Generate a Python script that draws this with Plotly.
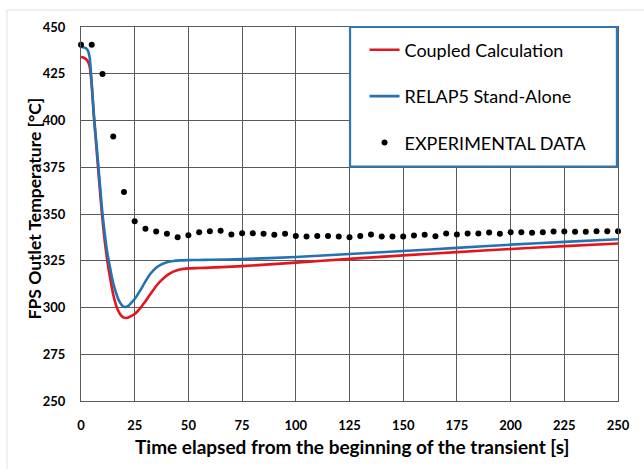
import plotly.graph_objects as go

# Simulation time axis [s] and outlet temperatures [°C]
t_coupled = [0, 1, 2, 3, 4, 5, 6, 7, 8, 9, 10, 11, 12, 13, 14, 15, 16, 17, 18, 19, 20,
             21, 22, 23, 25, 27.5, 30, 32.5, 35, 37.5, 40, 43, 46, 50, 55, 60, 75, 100,
             125, 150, 175, 200, 225, 250]
temp_coupled = [434.0, 433.7, 433.1, 432.0, 429.0, 419.0, 402.0, 388.0, 374.0, 360.0,
                347.0, 336.0, 327.0, 319.5, 313.0, 307.0, 302.5, 299.0, 296.8, 295.3,
                294.6, 294.4, 294.6, 295.2, 296.5, 299.5, 303.3, 307.5, 311.5, 314.6,
                317.2, 319.2, 320.3, 320.9, 321.1, 321.3, 322.1, 324.0, 326.0, 327.9,
                329.6, 331.3, 332.8, 334.2]

t_relap = [0, 1, 2, 3, 4, 5, 6, 7, 8, 9, 10, 11, 12, 13, 14, 15, 16, 17, 18, 19, 20,
           21, 22, 23, 25, 27.5, 30, 32.5, 35, 37.5, 40, 43, 46, 50, 55, 60, 75, 100,
           125, 150, 175, 200, 225, 250]
temp_relap = [439.3, 439.2, 438.8, 437.8, 434.0, 419.0, 403.0, 390.0, 377.0, 363.0,
              350.0, 340.0, 331.0, 324.5, 318.5, 313.0, 309.0, 305.5, 303.0, 301.3,
              300.4, 300.3, 300.9, 302.0, 304.5, 309.0, 314.0, 318.3, 321.3, 323.1,
              324.2, 324.9, 325.2, 325.35, 325.4, 325.5, 325.9, 327.0, 328.6, 330.2,
              331.9, 333.6, 335.1, 336.5]

t_exp = [0, 5, 10, 15, 20, 25, 30, 35, 40, 45, 50, 55, 60, 65, 70, 75, 80, 85, 90, 95,
         100, 105, 110, 115, 120, 125, 130, 135, 140, 145, 150, 155, 160, 165, 170, 175,
         180, 185, 190, 195, 200, 205, 210, 215, 220, 225, 230, 235, 240, 245, 250]
temp_exp = [440.5, 440.5, 424.8, 391.4, 361.7, 346.1, 342.1, 340.6, 339.4, 337.6,
            338.7, 340.3, 340.8, 341.0, 339.0, 339.7, 339.7, 339.4, 338.9, 339.4,
            338.3, 338.0, 338.3, 338.3, 338.0, 337.6, 338.3, 339.0, 338.0, 338.0,
            338.0, 338.5, 338.9, 338.1, 339.6, 339.0, 339.6, 339.6, 340.1, 339.4,
            340.3, 340.3, 340.0, 340.3, 340.6, 340.6, 340.5, 340.5, 340.8, 340.8,
            340.8]

x_ticks = [0, 25, 50, 75, 100, 125, 150, 175, 200, 225, 250]
y_ticks = [250, 275, 300, 325, 350, 375, 400, 425, 450]

FONT = "Lato"
GRID = "#5a5a5a"
PLOT_W, PLOT_H = 537, 374

fig = go.Figure()
fig.add_trace(go.Scatter(
    x=t_coupled, y=temp_coupled, mode="lines", name="Coupled Calculation",
    line=dict(color="#e3161e", width=2.6, shape="spline", smoothing=0.6),
    legendgroup="a"))
fig.add_trace(go.Scatter(
    x=t_relap, y=temp_relap, mode="lines", name="RELAP5 Stand-Alone",
    line=dict(color="#2273b3", width=2.6, shape="spline", smoothing=0.6),
    legendgroup="b"))
fig.add_trace(go.Scatter(
    x=t_exp, y=temp_exp, mode="markers", name="EXPERIMENTAL DATA",
    marker=dict(color="black", size=6), cliponaxis=False,
    legendgroup="c"))

fig.update_layout(
    width=644, height=469,
    margin=dict(l=81, r=26, t=27, b=68),
    paper_bgcolor="white", plot_bgcolor="white",
    font=dict(family=FONT, color="black"),
    showlegend=True,
    legend=dict(
        x=0.528, y=0.988, xanchor="left", yanchor="top",
        bgcolor="rgba(0,0,0,0)", borderwidth=0,
        font=dict(family=FONT, size=18, color="black"),
        tracegroupgap=20, itemwidth=30,
    ),
    shapes=[
        # outer frame of the chart
        dict(type="rect", xref="paper", yref="paper",
             x0=-74 / PLOT_W, x1=1 + 30 / PLOT_W, y0=-75 / PLOT_H, y1=1 + 17 / PLOT_H,
             line=dict(color="#e2e2e2", width=1), layer="below"),
        # legend box
        dict(type="rect", xref="paper", yref="paper",
             x0=0.501, x1=0.998, y0=0.627, y1=1.0,
             line=dict(color="#2e78b7", width=2.2), fillcolor="white", layer="above"),
    ],
    annotations=[
        dict(text="<b>FPS Outlet Temperature [°C]</b>", textangle=-90,
             xref="paper", yref="paper", x=-47 / PLOT_W, y=0.515,
             xanchor="center", yanchor="middle", showarrow=False,
             font=dict(family=FONT, size=17.5, color="black")),
        dict(text="<b>Time elapsed from the beginning of the transient [s]</b>",
             xref="paper", yref="paper", x=0.505, y=-45 / PLOT_H,
             xanchor="center", yanchor="middle", showarrow=False,
             font=dict(family=FONT, size=19, color="black")),
    ],
)

fig.update_xaxes(
    range=[0, 250], tickvals=x_ticks, ticktext=[str(v) for v in x_ticks],
    showgrid=True, gridcolor=GRID, gridwidth=1,
    showline=True, linecolor=GRID, linewidth=1, mirror=True,
    ticks="outside", ticklen=12, tickcolor="rgba(0,0,0,0)", zeroline=False,
    tickfont=dict(family=FONT, size=13, weight="bold"),
)
fig.update_yaxes(
    range=[250, 450], tickvals=y_ticks, ticktext=[str(v) for v in y_ticks],
    showgrid=True, gridcolor=GRID, gridwidth=1,
    showline=True, linecolor=GRID, linewidth=1, mirror=True,
    ticks="outside", ticklen=12, tickcolor="rgba(0,0,0,0)", zeroline=False,
    tickfont=dict(family=FONT, size=13, weight="bold"),
)

fig.write_html("out.html")
